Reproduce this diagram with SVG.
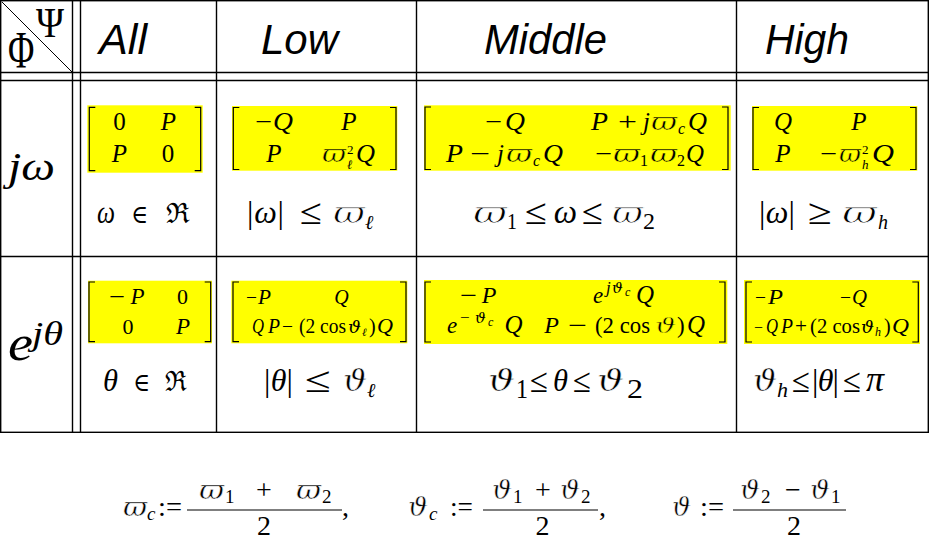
<svg xmlns="http://www.w3.org/2000/svg" width="930" height="541" viewBox="0 0 930 541">
<style>
.g{stroke:#000;stroke-width:1.4;fill:none}
.br{stroke:#000;stroke-width:1.2;fill:none}
.y{fill:#ffff00}
.h{font-family:"Liberation Sans",Arial,sans-serif;font-style:italic;font-size:42px}
.m text{font-family:"Liberation Serif",serif}
.m text.G{font-family:"DejaVu Serif",serif}
.i{font-style:italic}
.c{text-anchor:middle}
.tw{stroke:#fff;stroke-width:0.8}
.tv{stroke:#fff;stroke-width:0.5}
.ty{stroke:#ffff00;stroke-width:0.5}
</style>
<rect width="930" height="541" fill="#fff"/>
<g id="grid" class="g">
<rect x="0.7" y="0.7" width="927.6" height="431.6"/>
<line x1="72.5" y1="0" x2="72.5" y2="432"/>
<line x1="80.5" y1="0" x2="80.5" y2="432"/>
<line x1="216.5" y1="0" x2="216.5" y2="432"/>
<line x1="416.5" y1="0" x2="416.5" y2="432"/>
<line x1="736.5" y1="0" x2="736.5" y2="432"/>
<line x1="0" y1="72.5" x2="928" y2="72.5"/>
<line x1="0" y1="80.5" x2="928" y2="80.5"/>
<line x1="0" y1="256.5" x2="928" y2="256.5"/>
<line x1="2" y1="2" x2="72" y2="72" stroke-width="1"/>
</g>
<g id="corner" class="m">
<text transform="translate(36 37) scale(1 1.1)" font-size="38">Ψ</text>
<text transform="translate(8 68) scale(1 1.45)" font-size="36">Φ</text>
</g>
<g id="headers" class="h">
<text x="99" y="54" textLength="48" lengthAdjust="spacingAndGlyphs">All</text>
<text x="261" y="54" textLength="77" lengthAdjust="spacingAndGlyphs">Low</text>
<text x="484" y="54" textLength="123" lengthAdjust="spacingAndGlyphs">Middle</text>
<text x="765" y="54" textLength="84" lengthAdjust="spacingAndGlyphs">High</text>
</g>
<g id="rowlabels" class="m">
<text class="i" x="8" y="180" font-size="39" textLength="47" lengthAdjust="spacingAndGlyphs">jω</text>
<text class="i" x="8" y="360" font-size="50" textLength="25" lengthAdjust="spacingAndGlyphs">e</text>
<text class="i" x="32" y="345" font-size="34" textLength="31" lengthAdjust="spacingAndGlyphs">jθ</text>
</g>
<g id="r1-all" class="m" font-size="25">
<rect class="y" x="87.3" y="105.3" width="115.4" height="67.4"/>
<path class="br" d="M95.3 107.3H89.3V170.7H95.3M194.7 107.3H200.7V170.7H194.7"/>
<text class="c" x="119.5" y="130">0</text>
<text class="c i" x="168.5" y="130">P</text>
<text class="c i" x="119.5" y="162">P</text>
<text class="c" x="168" y="162">0</text>
</g>
<g id="r1-low" class="m" font-size="25">
<rect class="y" x="232" y="106" width="165.3" height="64.7"/>
<path class="br" d="M239.3 107.5H233.3V169.5H239.3M390 107.5H396V169.5H390"/>
<text x="255" y="130" textLength="17" lengthAdjust="spacingAndGlyphs">−</text>
<text class="i" x="273" y="130" textLength="20" lengthAdjust="spacingAndGlyphs">Q</text>
<text class="c i" x="349" y="130">P</text>
<text class="c i" x="274" y="162">P</text>
<text class="G i ty" x="322" y="162" font-size="24" textLength="24" lengthAdjust="spacingAndGlyphs">ϖ</text>
<text x="347" y="154" font-size="13">2</text>
<text class="i" x="347" y="169" font-size="13">ℓ</text>
<text class="i" x="356" y="162" textLength="19" lengthAdjust="spacingAndGlyphs">Q</text>
</g>
<g id="r1-mid" class="m" font-size="25">
<rect class="y" x="424" y="105.3" width="306.7" height="65.4"/>
<path class="br" d="M431 107H425V169.5H431M722 107H728V169.5H722"/>
<text x="485" y="130" textLength="17" lengthAdjust="spacingAndGlyphs">−</text>
<text class="i" x="505" y="130" textLength="20" lengthAdjust="spacingAndGlyphs">Q</text>
<text class="i" x="591" y="130" textLength="17" lengthAdjust="spacingAndGlyphs">P</text>
<text x="618" y="130" textLength="19" lengthAdjust="spacingAndGlyphs">+</text>
<text class="i" x="643" y="130">j</text>
<text class="G i ty" x="651" y="130" font-size="24" textLength="26" lengthAdjust="spacingAndGlyphs">ϖ</text>
<text class="i" x="678" y="134" font-size="16">c</text>
<text class="i" x="688" y="130" textLength="19" lengthAdjust="spacingAndGlyphs">Q</text>
<text class="i" x="446" y="162" textLength="17" lengthAdjust="spacingAndGlyphs">P</text>
<text x="470" y="162" textLength="20" lengthAdjust="spacingAndGlyphs">−</text>
<text class="i" x="497" y="162">j</text>
<text class="G i ty" x="506" y="162" font-size="24" textLength="26" lengthAdjust="spacingAndGlyphs">ϖ</text>
<text class="i" x="533" y="166" font-size="16">c</text>
<text class="i" x="543" y="162" textLength="20" lengthAdjust="spacingAndGlyphs">Q</text>
<text x="595" y="162" textLength="17" lengthAdjust="spacingAndGlyphs">−</text>
<text class="G i ty" x="613" y="162" font-size="24" textLength="27" lengthAdjust="spacingAndGlyphs">ϖ</text>
<text x="640" y="166" font-size="16">1</text>
<text class="G i ty" x="650" y="162" font-size="24" textLength="27" lengthAdjust="spacingAndGlyphs">ϖ</text>
<text x="677" y="166" font-size="16">2</text>
<text class="i" x="686" y="162" textLength="18" lengthAdjust="spacingAndGlyphs">Q</text>
</g>
<g id="r1-high" class="m" font-size="25">
<rect class="y" x="752" y="106" width="165.3" height="64.7"/>
<path class="br" d="M759 107.5H753V169.5H759M910 107.5H916V169.5H910"/>
<text class="c i" x="783" y="130">Q</text>
<text class="c i" x="859" y="130">P</text>
<text class="c i" x="783" y="162">P</text>
<text x="820" y="162" textLength="17" lengthAdjust="spacingAndGlyphs">−</text>
<text class="G i ty" x="839" y="162" font-size="24" textLength="22" lengthAdjust="spacingAndGlyphs">ϖ</text>
<text x="862" y="154" font-size="13">2</text>
<text class="i" x="862" y="169" font-size="13">h</text>
<text class="i" x="872" y="162" textLength="22" lengthAdjust="spacingAndGlyphs">Q</text>
</g>
<g id="r1-cond" class="m" font-size="30">
<text class="i" x="97" y="223" font-size="32" textLength="18" lengthAdjust="spacingAndGlyphs">ω</text>
<text class="G" x="131" y="223" font-size="26" textLength="17" lengthAdjust="spacingAndGlyphs">∈</text>
<text class="G" x="166" y="223" font-size="28" textLength="24" lengthAdjust="spacingAndGlyphs">ℜ</text>
<text x="247" y="223" font-size="32" textLength="37">|<tspan class="i">ω</tspan>|</text>
<text x="300" y="224" font-size="36" textLength="22" lengthAdjust="spacingAndGlyphs">≤</text>
<text class="G i tw" x="333" y="223" textLength="32" lengthAdjust="spacingAndGlyphs">ϖ</text>
<text class="i" x="365" y="229" font-size="20">ℓ</text>
<text class="G i tw" x="473" y="223" textLength="34" lengthAdjust="spacingAndGlyphs">ϖ</text>
<text x="507" y="229" font-size="24" textLength="10" lengthAdjust="spacingAndGlyphs">1</text>
<text x="525" y="224" font-size="36" textLength="22" lengthAdjust="spacingAndGlyphs">≤</text>
<text class="i c" x="565.5" y="223" font-size="33">ω</text>
<text x="582" y="224" font-size="36" textLength="21" lengthAdjust="spacingAndGlyphs">≤</text>
<text class="G i tw" x="612" y="223" textLength="31" lengthAdjust="spacingAndGlyphs">ϖ</text>
<text x="643" y="229" font-size="24" textLength="12" lengthAdjust="spacingAndGlyphs">2</text>
<text x="759" y="223" font-size="32" textLength="36">|<tspan class="i">ω</tspan>|</text>
<text x="808" y="224" font-size="36" textLength="24" lengthAdjust="spacingAndGlyphs">≥</text>
<text class="G i tw" x="842" y="223" textLength="35" lengthAdjust="spacingAndGlyphs">ϖ</text>
<text class="i" x="878" y="229" font-size="20">h</text>
</g>
<g id="r2-all" class="m" font-size="22">
<rect class="y" x="88" y="280.7" width="124" height="62.6"/>
<path class="br" d="M95 282H89V341.7H95M204.7 282H210.7V341.7H204.7"/>
<text x="109" y="304" textLength="16" lengthAdjust="spacingAndGlyphs">−</text>
<text class="i c" x="137.5" y="304" font-size="23">P</text>
<text class="c" x="182.5" y="304">0</text>
<text class="c" x="128" y="334">0</text>
<text class="c i" x="183" y="334" font-size="23">P</text>
</g>
<g id="r2-low" class="m" font-size="20">
<rect class="y" x="231.3" y="280.7" width="176" height="62.6"/>
<path class="br" d="M239 282H233V341.7H239M400 282H406V341.7H400"/>
<text x="246" y="304" textLength="11" lengthAdjust="spacingAndGlyphs">−</text>
<text class="i" x="258" y="304" textLength="13" lengthAdjust="spacingAndGlyphs">P</text>
<text class="c i" x="341.5" y="304">Q</text>
<text class="i" x="252" y="333" textLength="12" lengthAdjust="spacingAndGlyphs">Q</text>
<text class="i" x="268" y="333" textLength="12" lengthAdjust="spacingAndGlyphs">P</text>
<text x="282" y="333" textLength="11" lengthAdjust="spacingAndGlyphs">−</text>
<text x="299" y="333" textLength="47" lengthAdjust="spacingAndGlyphs">(2 cos</text>
<text class="G i" x="348" y="333" font-size="16" textLength="13" lengthAdjust="spacingAndGlyphs">ϑ</text>
<text class="i" x="362" y="336" font-size="11">ℓ</text>
<text x="369" y="333">)</text>
<text class="i" x="377" y="333" textLength="16" lengthAdjust="spacingAndGlyphs">Q</text>
</g>
<g id="r2-mid" class="m" font-size="23">
<rect class="y" x="424" y="280" width="303.3" height="64"/>
<path class="br" d="M431 282H425V342H431M719 282H725V342H719"/>
<text x="460" y="303" textLength="17" lengthAdjust="spacingAndGlyphs">−</text>
<text class="i c" x="489" y="303" font-size="24">P</text>
<text class="i" x="593" y="303">e</text>
<text class="i" x="606" y="293" font-size="17">j</text>
<text class="G i" x="612" y="293" font-size="15">ϑ</text>
<text class="i" x="625" y="296" font-size="12">c</text>
<text class="i c" x="645" y="303" font-size="25">Q</text>
<text class="i" x="447" y="333">e</text>
<text x="460" y="323" font-size="17">−</text>
<text class="G i" x="475" y="323" font-size="15">ϑ</text>
<text class="i" x="488" y="326" font-size="12">c</text>
<text class="i c" x="513.5" y="333" font-size="25">Q</text>
<text class="i c" x="551.5" y="333" font-size="24">P</text>
<text x="568" y="333" textLength="19" lengthAdjust="spacingAndGlyphs">−</text>
<text x="595" y="333" textLength="55" lengthAdjust="spacingAndGlyphs">(2 cos</text>
<text class="G i ty" x="655" y="333" font-size="21" textLength="21" lengthAdjust="spacingAndGlyphs">ϑ</text>
<text x="677" y="333">)</text>
<text class="i c" x="696" y="333" font-size="25">Q</text>
</g>
<g id="r2-high" class="m" font-size="20">
<rect class="y" x="744" y="280" width="176" height="64"/>
<path class="br" d="M752 282H746V342H752M912.3 282H918.3V342H912.3"/>
<text x="755" y="304" textLength="11" lengthAdjust="spacingAndGlyphs">−</text>
<text class="i" x="768" y="304" textLength="15" lengthAdjust="spacingAndGlyphs">P</text>
<text x="840" y="304" textLength="11" lengthAdjust="spacingAndGlyphs">−</text>
<text class="i" x="852" y="304" textLength="15" lengthAdjust="spacingAndGlyphs">Q</text>
<text x="754" y="333" font-size="16" textLength="9" lengthAdjust="spacingAndGlyphs">−</text>
<text class="i" x="766" y="333" textLength="12" lengthAdjust="spacingAndGlyphs">Q</text>
<text class="i" x="781" y="333" textLength="12" lengthAdjust="spacingAndGlyphs">P</text>
<text x="795" y="333" textLength="12" lengthAdjust="spacingAndGlyphs">+</text>
<text x="810" y="333" textLength="50" lengthAdjust="spacingAndGlyphs">(2 cos</text>
<text class="G i" x="861" y="333" font-size="16" textLength="13" lengthAdjust="spacingAndGlyphs">ϑ</text>
<text class="i" x="875" y="336" font-size="12">h</text>
<text x="884" y="333">)</text>
<text class="i" x="892" y="333" textLength="17" lengthAdjust="spacingAndGlyphs">Q</text>
</g>
<g id="r2-cond" class="m" font-size="32">
<text class="i" x="103" y="391" textLength="15" lengthAdjust="spacingAndGlyphs">θ</text>
<text class="G" x="133" y="391" font-size="26" textLength="17" lengthAdjust="spacingAndGlyphs">∈</text>
<text class="G" x="165" y="391" font-size="28" textLength="22" lengthAdjust="spacingAndGlyphs">ℜ</text>
<text x="264" y="391" textLength="29">|<tspan class="i">θ</tspan>|</text>
<text x="305" y="392" font-size="36" textLength="26" lengthAdjust="spacingAndGlyphs">≤</text>
<text class="G i tv" x="343" y="391" font-size="30" textLength="24" lengthAdjust="spacingAndGlyphs">ϑ</text>
<text class="i" x="367" y="397" font-size="20">ℓ</text>
<text class="G i tv" x="488" y="391" font-size="30" textLength="27" lengthAdjust="spacingAndGlyphs">ϑ</text>
<text x="516" y="398" font-size="28" textLength="12" lengthAdjust="spacingAndGlyphs">1</text>
<text x="530" y="392" font-size="34" textLength="18" lengthAdjust="spacingAndGlyphs">≤</text>
<text class="i" x="553" y="391" textLength="15" lengthAdjust="spacingAndGlyphs">θ</text>
<text x="573" y="392" font-size="34" textLength="18" lengthAdjust="spacingAndGlyphs">≤</text>
<text class="G i tv" x="597" y="391" font-size="30" textLength="27" lengthAdjust="spacingAndGlyphs">ϑ</text>
<text x="627" y="398" font-size="28" textLength="16" lengthAdjust="spacingAndGlyphs">2</text>
<text class="G i tv" x="753" y="391" font-size="30" textLength="24" lengthAdjust="spacingAndGlyphs">ϑ</text>
<text class="i" x="777" y="397" font-size="22">h</text>
<text x="792" y="392" font-size="34" textLength="18" lengthAdjust="spacingAndGlyphs">≤</text>
<text x="812" y="391" textLength="27">|<tspan class="i">θ</tspan>|</text>
<text x="843" y="392" font-size="34" textLength="18" lengthAdjust="spacingAndGlyphs">≤</text>
<text class="i" x="866" y="391" font-size="36">π</text>
</g>
<g id="definitions" class="m" font-size="28">
<text class="G i tv" x="123" y="516" font-size="26" textLength="24" lengthAdjust="spacingAndGlyphs">ϖ</text>
<text class="i" x="147" y="520" font-size="19">c</text>
<text x="158" y="516" textLength="24" lengthAdjust="spacingAndGlyphs">:=</text>
<text class="G i tv" x="199" y="499" font-size="26" textLength="25" lengthAdjust="spacingAndGlyphs">ϖ</text>
<text x="225" y="503" font-size="19">1</text>
<text class="c" x="264" y="499">+</text>
<text class="G i tv" x="296" y="499" font-size="26" textLength="25" lengthAdjust="spacingAndGlyphs">ϖ</text>
<text x="322" y="503" font-size="19">2</text>
<line class="br" x1="187" y1="510" x2="342" y2="510"/>
<text class="c" x="264" y="535">2</text>
<text x="342" y="516">,</text>
<text class="G i tv" x="408" y="516" font-size="26" textLength="20" lengthAdjust="spacingAndGlyphs">ϑ</text>
<text class="i" x="429" y="520" font-size="19">c</text>
<text x="450" y="516" textLength="23" lengthAdjust="spacingAndGlyphs">:=</text>
<text class="G i tv" x="492" y="499" font-size="26" textLength="20" lengthAdjust="spacingAndGlyphs">ϑ</text>
<text x="513" y="503" font-size="19">1</text>
<text class="c" x="543" y="499">+</text>
<text class="G i tv" x="560" y="499" font-size="26" textLength="20" lengthAdjust="spacingAndGlyphs">ϑ</text>
<text x="581" y="503" font-size="19">2</text>
<line class="br" x1="483" y1="510" x2="598" y2="510"/>
<text class="c" x="542.5" y="535">2</text>
<text x="599" y="516">,</text>
<text class="G i tv" x="672" y="516" font-size="26" textLength="19" lengthAdjust="spacingAndGlyphs">ϑ</text>
<text x="700" y="516" textLength="24" lengthAdjust="spacingAndGlyphs">:=</text>
<text class="G i tv" x="740" y="499" font-size="26" textLength="20" lengthAdjust="spacingAndGlyphs">ϑ</text>
<text x="761" y="503" font-size="19">2</text>
<text class="c" x="793" y="499">−</text>
<text class="G i tv" x="810" y="499" font-size="26" textLength="20" lengthAdjust="spacingAndGlyphs">ϑ</text>
<text x="831" y="503" font-size="19">1</text>
<line class="br" x1="733" y1="510" x2="846" y2="510"/>
<text class="c" x="794" y="535">2</text>
</g>
</svg>
